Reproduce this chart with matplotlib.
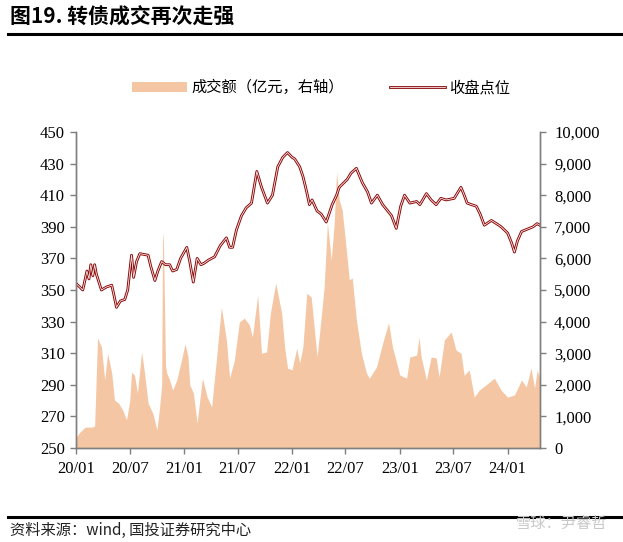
import matplotlib
matplotlib.use("Agg")
import matplotlib.pyplot as plt
import matplotlib.dates as mdates
import matplotlib.patheffects as pe
from matplotlib.ticker import FuncFormatter, MultipleLocator
import numpy as np
import pandas as pd

plt.rcParams['font.family'] = ['Liberation Serif', 'Noto Sans CJK SC', 'DejaVu Sans']

# ---- data: closing index (left axis) ----
idx_dates = ["2020-01-02", "2020-01-24", "2020-02-07", "2020-02-14", "2020-02-20", "2020-02-27",
             "2020-03-04", "2020-03-10", "2020-03-27", "2020-04-14", "2020-05-01", "2020-05-07",
             "2020-05-17", "2020-05-30", "2020-06-14", "2020-06-24", "2020-07-07", "2020-07-14",
             "2020-07-24", "2020-08-04", "2020-09-01", "2020-09-10", "2020-09-24", "2020-10-04",
             "2020-10-17", "2020-10-30", "2020-11-13", "2020-11-23", "2020-12-07", "2020-12-20",
             "2021-01-10", "2021-01-20", "2021-02-01", "2021-02-14", "2021-02-27", "2021-03-10",
             "2021-03-25", "2021-04-14", "2021-05-03", "2021-05-24", "2021-06-04", "2021-06-14",
             "2021-06-27", "2021-07-14", "2021-07-30", "2021-08-17", "2021-09-04", "2021-09-20",
             "2021-10-10", "2021-10-27", "2021-11-14", "2021-12-01", "2021-12-17", "2022-01-01",
             "2022-01-10", "2022-01-27", "2022-02-07", "2022-02-20", "2022-03-01", "2022-03-10",
             "2022-03-27", "2022-04-10", "2022-04-27", "2022-05-17", "2022-06-01", "2022-06-10",
             "2022-07-07", "2022-07-20", "2022-08-07", "2022-08-27", "2022-09-14", "2022-09-27",
             "2022-10-17", "2022-11-04", "2022-11-17", "2022-12-04", "2022-12-20", "2023-01-04",
             "2023-01-17", "2023-02-04", "2023-02-27", "2023-03-10", "2023-04-01", "2023-04-17",
             "2023-05-04", "2023-05-20", "2023-06-07", "2023-07-04", "2023-07-27", "2023-08-07",
             "2023-08-17", "2023-09-01", "2023-09-17", "2023-09-30", "2023-10-14", "2023-11-07",
             "2023-11-24", "2023-12-10", "2024-01-01", "2024-01-14", "2024-01-24", "2024-02-03",
             "2024-02-17", "2024-03-01", "2024-03-14", "2024-03-27", "2024-04-10", "2024-04-19"]
idx_values = [354, 350, 362, 357, 366, 359,
              366, 360, 350, 352, 353, 348,
              339, 343, 344, 350, 372, 358,
              368, 373, 372, 365, 356, 362,
              368, 366, 366, 362, 363, 370,
              377, 368, 355, 370, 366, 367,
              369, 371, 378, 383, 377, 377,
              388, 397, 402, 405, 425, 415,
              405, 410, 428, 434, 437, 434,
              433, 428, 422, 412, 404, 407,
              400, 398, 393, 404, 410, 415,
              420, 424, 427, 418, 412, 405,
              410, 404, 401, 397, 389, 403,
              410, 405, 406, 404, 411, 407,
              404, 408, 407, 408, 415, 410,
              405, 404, 403, 398, 391, 394,
              392, 390, 386, 380, 374, 381,
              387, 388, 389, 390, 392, 391]

# ---- data: turnover, 100m yuan (right axis) ----
vol_dates = ["2020-01-02", "2020-01-14", "2020-02-01", "2020-02-23", "2020-03-04", "2020-03-10",
             "2020-03-14", "2020-03-27", "2020-04-07", "2020-04-17", "2020-05-01", "2020-05-10",
             "2020-05-24", "2020-06-07", "2020-06-20", "2020-07-01", "2020-07-07", "2020-07-17",
             "2020-07-27", "2020-08-10", "2020-08-20", "2020-09-01", "2020-09-17", "2020-10-01",
             "2020-10-10", "2020-10-17", "2020-10-20", "2020-10-23", "2020-10-30", "2020-11-03",
             "2020-11-13", "2020-11-23", "2020-12-07", "2020-12-23", "2021-01-04", "2021-01-14",
             "2021-01-20", "2021-02-01", "2021-02-14", "2021-02-23", "2021-03-04", "2021-03-20",
             "2021-04-04", "2021-04-20", "2021-05-07", "2021-05-24", "2021-06-04", "2021-06-20",
             "2021-07-07", "2021-07-24", "2021-08-10", "2021-08-20", "2021-09-07", "2021-09-20",
             "2021-10-07", "2021-10-20", "2021-11-07", "2021-11-27", "2021-12-07", "2021-12-17",
             "2022-01-01", "2022-01-17", "2022-01-27", "2022-02-07", "2022-02-20", "2022-03-07",
             "2022-03-17", "2022-03-27", "2022-04-10", "2022-04-20", "2022-05-01", "2022-05-14",
             "2022-05-24", "2022-06-01", "2022-06-10", "2022-06-20", "2022-07-04", "2022-07-14",
             "2022-07-24", "2022-08-07", "2022-08-24", "2022-09-10", "2022-09-20", "2022-10-14",
             "2022-11-04", "2022-11-24", "2022-12-07", "2023-01-01", "2023-01-24", "2023-02-04",
             "2023-02-27", "2023-03-07", "2023-03-14", "2023-04-01", "2023-04-17", "2023-05-04",
             "2023-05-14", "2023-06-01", "2023-06-24", "2023-07-10", "2023-07-27", "2023-08-07",
             "2023-08-24", "2023-09-10", "2023-09-27", "2023-10-20", "2023-11-17", "2023-12-10",
             "2024-01-01", "2024-01-24", "2024-02-17", "2024-03-04", "2024-03-20", "2024-04-01",
             "2024-04-10", "2024-04-19"]
vol_values = [350, 500, 660, 660, 700, 2370,
              3480, 3200, 2150, 3000, 2370, 1520,
              1420, 1200, 890, 1500, 2400, 2300,
              1740, 3040, 2370, 1420, 1100, 570,
              1300, 2000, 6840, 6500, 2600, 2370,
              2150, 1830, 2150, 2780, 3300, 2900,
              2000, 1750, 790, 1520, 2210, 1610,
              1300, 2780, 4460, 3420, 2210, 2780,
              3990, 4110, 3890, 3510, 4840, 3000,
              3040, 4270, 5220, 4270, 3200, 2530,
              2470, 3160, 2690, 3200, 4900, 4780,
              3830, 2880, 4150, 5100, 7120, 5950,
              7120, 8730, 7850, 7530, 6270, 5320,
              5380, 4050, 3000, 2370, 2210, 2560,
              3320, 3960, 3200, 2310, 2210, 2880,
              2940, 3510, 2900, 2150, 2880, 2850,
              2250, 3420, 3670, 3100, 3000, 2300,
              2470, 1610, 1830, 2000, 2210, 1830,
              1610, 1680, 2150, 1930, 2530, 1900,
              2470, 2200]

tick_dates = ["2020-01-01", "2020-07-01", "2021-01-01", "2021-07-01", "2022-01-01",
              "2022-07-01", "2023-01-01", "2023-07-01", "2024-01-01"]
left_ticks = [250, 270, 290, 310, 330, 350, 370, 390, 410, 430, 450]

title_text = "图19. 转债成交再次走强"
vol_label = "成交额（亿元，右轴）"
idx_label = "收盘点位"
source_text = "资料来源：wind, 国投证券研究中心"
watermark = "雪球：尹睿哲"

idx_d = pd.to_datetime(idx_dates)
vol_d = pd.to_datetime(vol_dates)

fig = plt.figure(figsize=(6.23, 5.42), dpi=100)
ax1 = fig.add_axes([0.122, 0.1734, 0.745, 0.5831])
ax2 = ax1.twinx()
ax1.set_zorder(ax2.get_zorder() + 1)
ax1.patch.set_visible(False)

area = ax2.fill_between(vol_d, vol_values, 0, color='#F5C6A3', linewidth=0, label=vol_label)
line, = ax1.plot(idx_d, idx_values, color='#FBEAEA', linewidth=0.6, label=idx_label,
                 path_effects=[pe.Stroke(linewidth=2.0, foreground='#8B0A0A'), pe.Normal()])

ax1.set_ylim(250, 450)
ax1.set_yticks(left_ticks)
ax2.set_ylim(0, 10000)
ax2.yaxis.set_major_locator(MultipleLocator(1000))
ax2.yaxis.set_major_formatter(FuncFormatter(lambda v, p: f"{int(v):,}"))

ax1.set_xlim(pd.Timestamp("2020-01-01"), pd.Timestamp("2024-04-20"))
ax1.set_xticks(pd.to_datetime(tick_dates))
ax1.xaxis.set_major_formatter(mdates.DateFormatter("%y/%m"))

spine_col = '#7F7F7F'
for a in (ax1, ax2):
    a.spines['top'].set_visible(False)
    for s in ('left', 'right', 'bottom'):
        a.spines[s].set_color(spine_col)
        a.spines[s].set_linewidth(1.0)
    a.tick_params(axis='both', colors=spine_col, labelcolor='black', labelsize=12,
                  length=4, width=1.0, direction='out')
ax1.tick_params(axis='x', pad=5)
ax1.tick_params(axis='y', pad=4)
ax2.tick_params(axis='y', pad=6)

fig.legend([area, line], [vol_label, idx_label], loc='center', bbox_to_anchor=(0.515, 0.838),
           ncol=2, frameon=False, handlelength=3.6, columnspacing=3.0,
           handletextpad=0.3, prop={'family': ['Noto Sans CJK SC'], 'size': 11})

fig.text(0.016, 0.968, title_text, fontsize=15, fontweight='bold', va='center', ha='left',
         family=['Noto Sans CJK SC'])
fig.add_artist(plt.Line2D([0.013, 1.0], [0.938, 0.938], color='black', linewidth=2.2))
fig.add_artist(plt.Line2D([0.013, 1.0], [0.046, 0.046], color='black', linewidth=2.2))
fig.text(0.016, 0.022, source_text, fontsize=11, va='center', ha='left',
         family=['Noto Sans CJK SC'], color='#222222')
fig.text(0.975, 0.034, watermark, fontsize=11, va='center', ha='right',
         family=['Noto Sans CJK SC'], color='#C8C8C8')

fig.savefig("out.png", dpi=100)
